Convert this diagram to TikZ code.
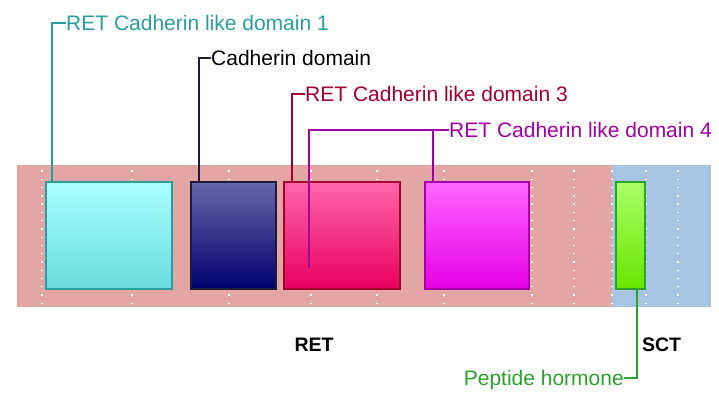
\documentclass[tikz,border=0pt]{standalone}
\usepackage{fontspec}
\setmainfont{Liberation Sans}
\definecolor{retbg}{HTML}{E4A5A5}
\definecolor{sctbg}{HTML}{A8C4E3}
\definecolor{tealline}{HTML}{2A9E9E}
\definecolor{navyline}{HTML}{1C1C38}
\definecolor{crimsonline}{HTML}{A3002E}
\definecolor{magentaline}{HTML}{A300A8}
\definecolor{greenline}{HTML}{2BA32B}
\begin{document}
\begin{tikzpicture}[x=1pt,y=-1pt,
	dombox/.style={rectangle,line width=1.5pt,anchor=north west,inner sep=0pt,outer sep=0pt},
	domlabel/.style={inner sep=0pt,text height=15pt,text depth=0pt,font=\fontsize{21}{25}\selectfont},
	genelabel/.style={inner sep=0pt,text height=14.5pt,text depth=0pt,font=\fontsize{19.5}{23}\selectfont\bfseries},
	gridline/.style={white,line width=1.4pt,dash pattern=on 1.3pt off 6.97pt},
	leader/.style={line width=1.5pt}]
					\useasboundingbox (0,0) rectangle (719,398);
					\fill[retbg] (17,165) rectangle (612,307);
					\fill[sctbg] (612,165) rectangle (711,307);
					\draw[gridline] (42,170.4) -- (42,306);
					\draw[gridline] (132,170.4) -- (132,306);
					\draw[gridline] (229,170.4) -- (229,306);
					\draw[gridline] (311,170.4) -- (311,306);
					\draw[gridline] (377,170.4) -- (377,306);
					\draw[gridline] (444,170.4) -- (444,306);
					\draw[gridline] (532,170.4) -- (532,306);
					\draw[gridline] (574,170.4) -- (574,306);
					\draw[gridline] (612,170.4) -- (612,306);
					\draw[gridline] (646,170.4) -- (646,306);
					\draw[gridline] (678,170.4) -- (678,306);
					\node[dombox,draw=tealline,top color=cyan!33!white,middle color=cyan!40!white,bottom color=cyan!55!teal!60!white,minimum width=126pt,minimum height=107pt] (dom1) at (46,182) {};
					\node[dombox,draw=navyline,top color={rgb,255:red,102;green,102;blue,170},bottom color={rgb,255:red,0;green,0;blue,110},minimum width=85pt,minimum height=107pt] (dom2) at (191,182) {};
					\node[dombox,draw=crimsonline,top color={rgb,255:red,255;green,102;blue,170},bottom color={rgb,255:red,232;green,0;blue,94},minimum width=116pt,minimum height=107pt] (dom3) at (284,182) {};
					\node[dombox,draw=magentaline,top color={rgb,255:red,255;green,102;blue,255},bottom color={rgb,255:red,230;green,0;blue,230},minimum width=104pt,minimum height=107pt] (dom4) at (425,182) {};
					\node[dombox,draw=greenline,top color={rgb,255:red,170;green,255;blue,102},bottom color={rgb,255:red,102;green,230;blue,0},minimum width=29pt,minimum height=107pt] (hormone) at (616,182) {};
					\node[domlabel,anchor=west,text=tealline] (lab1) at (66,23) {RET Cadherin like domain 1};
					\node[domlabel,anchor=west,text=black] (lab2) at (211,58) {Cadherin domain};
					\node[domlabel,anchor=west,text=crimsonline] (lab3) at (305,94) {RET Cadherin like domain 3};
					\node[domlabel,anchor=west,text=magentaline] (lab4) at (449,130) {RET Cadherin like domain 4};
					\node[domlabel,anchor=east,text=greenline] (lab5) at (624,378) {Peptide hormone};
					\node[genelabel] (ret) at (314,344) {RET};
					\node[genelabel] (sct) at (661.5,344) {SCT};
					\coordinate (foot1) at (52,182);
					\coordinate (foot2) at (199,182);
					\coordinate (foot3) at (292,182);
					\coordinate (foot4a) at (309,268);
					\coordinate (foot4b) at (433,182);
					\coordinate (foot5) at (637,289);
					\draw[leader,tealline] (foot1) |- (lab1.west);
					\draw[leader,navyline] (foot2) |- (lab2.west);
					\draw[leader,crimsonline] (foot3) |- (lab3.west);
					\draw[leader,magentaline] (foot4a) |- (lab4.west);
					\draw[leader,magentaline] (foot4b) -- (foot4b |- lab4.west);
					\draw[leader,greenline] (foot5) |- (lab5.east);
				\end{tikzpicture}
\end{document}
